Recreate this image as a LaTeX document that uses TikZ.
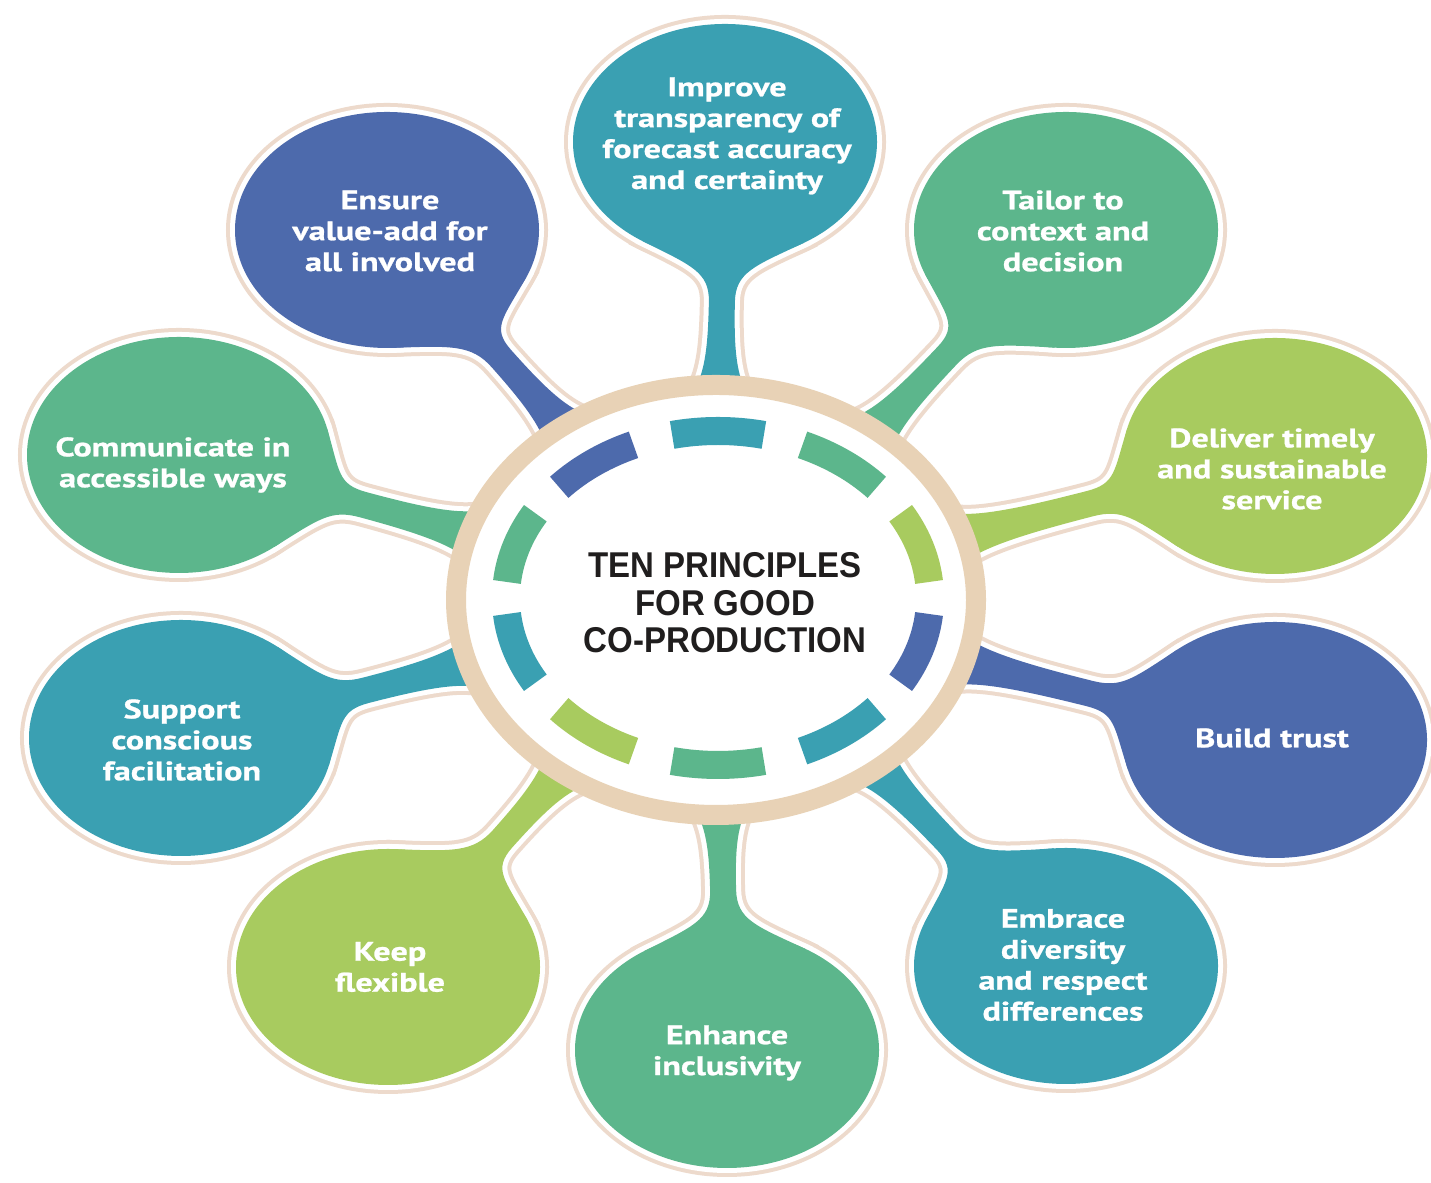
\documentclass[tikz,border=0pt]{standalone}
\usepackage{fontspec}
\setmainfont{PT Sans}
\newfontfamily\bubfont[FakeStretch=1.28, BoldFeatures={FakeBold=0.9}]{PT Sans}
\newfontfamily\ctrfont[FakeStretch=0.92]{Liberation Sans}
\definecolor{cteal}{RGB}{58,160,178}
\definecolor{cgreen}{RGB}{92,182,140}
\definecolor{clime}{RGB}{168,203,95}
\definecolor{cblue}{RGB}{77,106,172}
\definecolor{ringcol}{RGB}{232,210,182}
\definecolor{bubedge}{RGB}{237,218,204}
\definecolor{ctrtext}{RGB}{32,30,30}
\def\ccx{716}
\def\ccy{583}
\tikzset{
  btxt/.style={text=white, font=\bubfont\bfseries\fontsize{7.6}{8.8}\selectfont, align=center, inner sep=0pt},
  ctr/.style={text=ctrtext, font=\ctrfont\bfseries\fontsize{10.2}{10.7}\selectfont, align=center, inner sep=0pt},
  outerline/.style={line width=0.18cm, bubedge},
  innerline/.style={line width=0.10cm, white}
}
\newcommand\bubble[3]{%
  \pgfmathsetmacro\bbdx{\ccx-(#1)}%
  \pgfmathsetmacro\bbdy{\ccy-(#2)}%
  \pgfmathsetmacro\bbD{veclen(\bbdx,\bbdy)}%
  \pgfmathsetmacro\bbA{atan2(\bbdy,\bbdx)}%
  \pgfmathsetmacro\bbCa{cos(\bbA)}%
  \pgfmathsetmacro\bbSa{sin(\bbA)}%
  \pgfmathsetmacro\bbRr{559/sqrt((2.15*(\bbCa))^2+(2.6*(\bbSa))^2)}%
  \pgfmathsetmacro\bbRe{179.36/sqrt((1.18*(\bbCa))^2+(1.52*(\bbSa))^2)}%
  \pgfmathsetmacro\bbXr{\bbD-\bbRr}%
  \pgfmathsetmacro\bbXn{\bbRe+42}%
  \pgfmathsetmacro\bbXm{(\bbXn+\bbXr)/2}%
  \pgfmathsetmacro\bbTau{atan2(1.52*(\bbSa),1.18*(\bbCa))}%
  % side +
  \pgfmathsetmacro\bbTp{\bbTau+32}%
  \pgfmathsetmacro\bbEx{152*cos(\bbTp)}%
  \pgfmathsetmacro\bbEy{118*sin(\bbTp)}%
  \pgfmathsetmacro\bbPu{(\bbEx)*(\bbCa)+(\bbEy)*(\bbSa)}%
  \pgfmathsetmacro\bbPv{(\bbEy)*(\bbCa)-(\bbEx)*(\bbSa)}%
  \pgfmathsetmacro\bbTx{-152*sin(\bbTp)}%
  \pgfmathsetmacro\bbTy{118*cos(\bbTp)}%
  \pgfmathsetmacro\bbAu{\bbPu-0.38*((\bbTx)*(\bbCa)+(\bbTy)*(\bbSa))}%
  \pgfmathsetmacro\bbAv{\bbPv-0.38*((\bbTy)*(\bbCa)-(\bbTx)*(\bbSa))}%
  % side -
  \pgfmathsetmacro\bbTm{\bbTau-32}%
  \pgfmathsetmacro\bbFx{152*cos(\bbTm)}%
  \pgfmathsetmacro\bbFy{118*sin(\bbTm)}%
  \pgfmathsetmacro\bbQu{(\bbFx)*(\bbCa)+(\bbFy)*(\bbSa)}%
  \pgfmathsetmacro\bbQv{(\bbFy)*(\bbCa)-(\bbFx)*(\bbSa)}%
  \pgfmathsetmacro\bbUx{-152*sin(\bbTm)}%
  \pgfmathsetmacro\bbUy{118*cos(\bbTm)}%
  \pgfmathsetmacro\bbBu{\bbQu+0.38*((\bbUx)*(\bbCa)+(\bbUy)*(\bbSa))}%
  \pgfmathsetmacro\bbBv{\bbQv+0.38*((\bbUy)*(\bbCa)-(\bbUx)*(\bbSa))}%
  \def\bbstem{(0,0) -- (\bbPu,\bbPv) .. controls (\bbAu,\bbAv) and ({\bbXn-30},13) .. (\bbXn,13)
    .. controls (\bbXm,13) and ({\bbXr-14},15) .. ({\bbXr+6},26)
    -- ({\bbXr+40},26) -- ({\bbXr+40},-26) -- ({\bbXr+6},-26)
    .. controls ({\bbXr-14},-15) and (\bbXm,-13) .. (\bbXn,-13)
    .. controls ({\bbXn-30},-13) and (\bbBu,\bbBv) .. (\bbQu,\bbQv) -- cycle}%
  \draw[outerline] (#1,#2) ellipse [x radius=152, y radius=118];
  \begin{scope}[shift={(#1,#2)}, rotate=\bbA]\draw[outerline] \bbstem;\end{scope}
  \draw[innerline] (#1,#2) ellipse [x radius=152, y radius=118];
  \begin{scope}[shift={(#1,#2)}, rotate=\bbA]\draw[innerline] \bbstem;\end{scope}
  \fill[#3] (#1,#2) ellipse [x radius=152, y radius=118];
  \begin{scope}[shift={(#1,#2)}, rotate=\bbA]\fill[#3] \bbstem;\end{scope}
}
\begin{document}
\begin{tikzpicture}[x=0.01cm,y=0.01cm]
\path[use as bounding box, fill=white] (0,0) rectangle (1431,1183);
% bubbles
\bubble{725}{1041}{cteal}
\bubble{1066}{953}{cgreen}
\bubble{1275}{727}{clime}
\bubble{1275}{443}{cblue}
\bubble{1066}{217}{cteal}
\bubble{727}{133}{cgreen}
\bubble{388}{216}{clime}
\bubble{181}{445}{cteal}
\bubble{179}{728}{cgreen}
\bubble{387}{953}{cblue}
% centre
\fill[white] (\ccx,\ccy) ellipse [x radius=260, y radius=215];
\draw[ringcol, line width=0.2cm] (\ccx,\ccy) ellipse [x radius=260, y radius=215];
\begin{scope}[shift={(718,585)}]
\foreach \a/\c in {90/cteal,54/cgreen,18/clime,-18/cblue,-54/cteal,-90/cgreen,-126/clime,-162/cteal,162/cgreen,126/cblue}
  \draw[\c, line width=0.28cm] ({\a-12.5}:212 and 167) arc[start angle={\a-12.5}, end angle={\a+12.5}, x radius=212, y radius=167];
\end{scope}
% texts
\node[ctr] (center) at (725,580) {TEN PRINCIPLES\\FOR GOOD\\CO-PRODUCTION};
\node[btxt] (improve) at (727,1047) {Improve\\transparency of\\forecast accuracy\\and certainty};
\node[btxt] (tailor) at (1063,952) {Tailor to\\context and\\decision};
\node[btxt] (deliver) at (1272,714) {Deliver timely\\and sustainable\\service};
\node[btxt] (build) at (1272,445) {Build trust};
\node[btxt] (embrace) at (1063,218) {Embrace\\diversity\\and respect\\differences};
\node[btxt] (enhance) at (727,130) {Enhance\\inclusivity};
\node[btxt] (keep) at (390,216) {Keep\\flexible};
\node[btxt] (support) at (182,443) {Support\\conscious\\facilitation};
\node[btxt] (communicate) at (173,718) {Communicate in\\accessible ways};
\node[btxt] (ensure) at (390,952) {Ensure\\value-add for\\all involved};
\end{tikzpicture}
\end{document}
